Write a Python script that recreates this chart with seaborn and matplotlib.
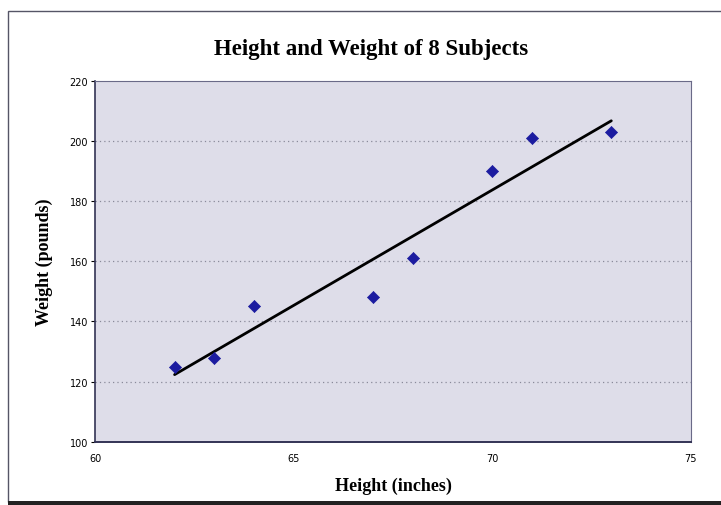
import numpy as np
import pandas as pd
import matplotlib
matplotlib.use("Agg")
import matplotlib.pyplot as plt
import seaborn as sns
from matplotlib.patches import Rectangle

heights = [62, 63, 64, 67, 68, 70, 71, 73]
weights = [125, 128, 145, 148, 161, 190, 201, 203]
x_ticks = [60, 65, 70, 75]
y_ticks = [100, 120, 140, 160, 180, 200, 220]

df = pd.DataFrame({"height": heights, "weight": weights})

sns.set_style("white", {"text.color": "black", "xtick.color": "black",
                        "ytick.color": "black", "axes.labelcolor": "black"})
fig = plt.figure(figsize=(7.21, 5.06), dpi=100)
ax = fig.add_axes([0.132, 0.125, 0.826, 0.713])
ax.set_facecolor("#dedde9")

# outer chart frame
fig.patches.append(Rectangle((0.011, 0.006), 1.2, 0.97, transform=fig.transFigure,
                             fill=False, edgecolor="#555566", lw=1.0))
fig.patches.append(Rectangle((0.011, 0.0), 1.0, 0.008, transform=fig.transFigure,
                             color="#222222", lw=0))

for yv in y_ticks[1:-1]:
    ax.axhline(yv, color="#8a8a9a", ls=(0, (1, 2.5)), lw=0.9, zorder=1)

# trendline (least squares)
slope, icpt = np.polyfit(df["height"], df["weight"], 1)
xs = np.array([min(heights), max(heights)])
ax.plot(xs, slope * xs + icpt, color="black", lw=2, zorder=2)

sns.scatterplot(data=df, x="height", y="weight", marker="D", s=38,
                color="#1c1ca0", edgecolor="#1c1ca0", ax=ax, zorder=3)

ax.set_xlim(60, 75)
ax.set_ylim(100, 220)
ax.set_xticks(x_ticks)
ax.set_yticks(y_ticks)
ax.tick_params(axis="y", labelsize=7, length=3, direction="out", left=True, pad=2)
ax.tick_params(axis="x", labelsize=7, length=0, pad=8)
for s in ax.spines.values():
    s.set_color("#6a6a88")
    s.set_linewidth(0.8)
ax.spines["bottom"].set_color("#333355")
ax.spines["bottom"].set_linewidth(1.4)
ax.spines["left"].set_color("#333355")
ax.spines["left"].set_linewidth(1.2)

serif = ["Liberation Serif", "DejaVu Serif"]
ax.set_xlabel("Height (inches)", family=serif, fontweight="bold", fontsize=13,
              labelpad=10, color="black")
ax.set_ylabel("Weight (pounds)", family=serif, fontweight="bold", fontsize=13,
              labelpad=12, color="black")
fig.text(0.515, 0.902, "Height and Weight of 8 Subjects", family=serif,
         fontweight="bold", fontsize=16.5, ha="center", va="center", color="black")

fig.savefig("out.png", dpi=100)
